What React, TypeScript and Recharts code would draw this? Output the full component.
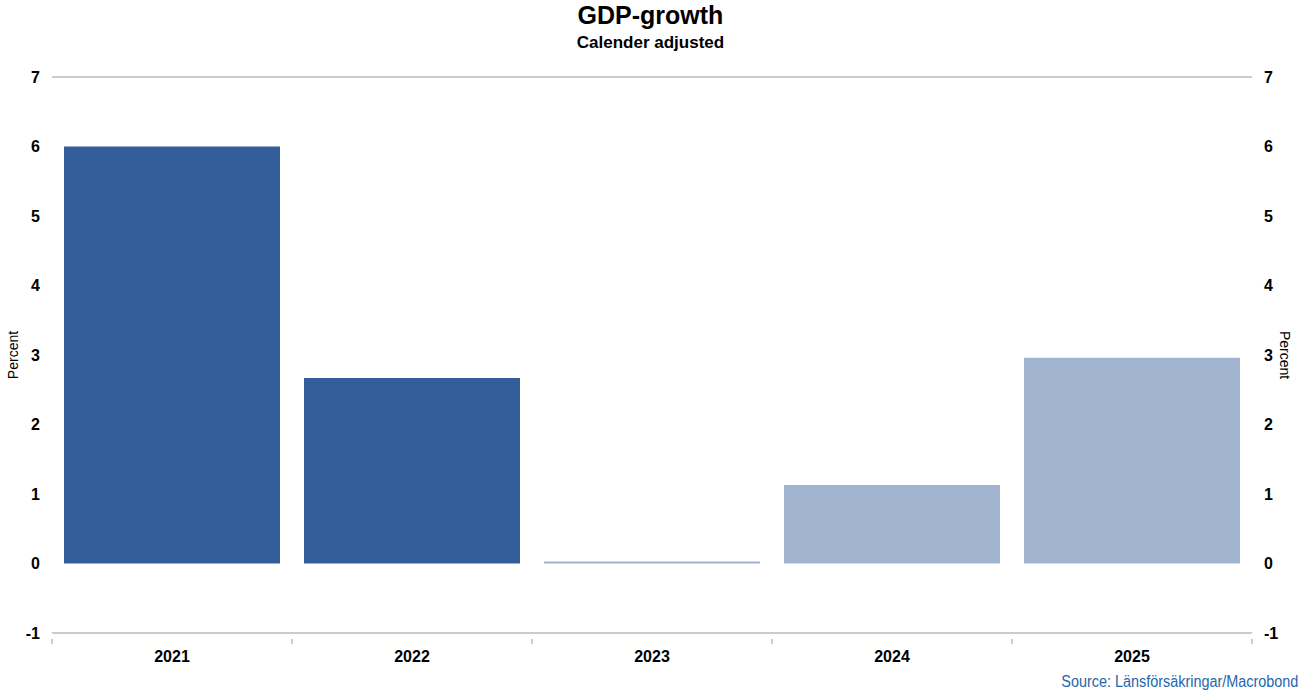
import { BarChart, Bar, XAxis, YAxis, CartesianGrid } from "recharts";

const years = ["2021", "2022", "2023", "2024", "2025"];
// outcome years vs. forecast years
const outcome = [6.0, 2.67, null, null, null];
const forecast = [null, null, 0.03, 1.13, 2.96];
const yTicks = [-1, 0, 1, 2, 3, 4, 5, 6, 7];

const data = years.map((year, i) => ({
  year,
  outcome: outcome[i],
  forecast: forecast[i],
}));

const FONT = "Arial, 'Liberation Sans', sans-serif";

function PercentLabel(props: any) {
  const { viewBox, side } = props;
  const { x, y, width, height } = viewBox;
  const cx = side === "left" ? x + 1 : x + width - 4;
  const cy = y + height / 2;
  return (
    <text
      x={cx}
      y={cy}
      transform={`rotate(${side === "left" ? -90 : 90}, ${cx}, ${cy})`}
      textAnchor="middle"
      dominantBaseline="central"
      fontSize={14}
      fontFamily={FONT}
      fill="#000"
    >
      Percent
    </text>
  );
}

// category label plus small tick marks at the category boundaries
function YearTick(props: any) {
  const { x, y, payload, index, visibleTicksCount } = props;
  const half = payload?.offset ?? 120;
  const top = y - 18 + 6;
  const last = index === (visibleTicksCount ?? years.length) - 1;
  return (
    <g>
      <line x1={x - half} x2={x - half} y1={top} y2={top + 5} stroke="#999" />
      {last && <line x1={x + half} x2={x + half} y1={top} y2={top + 5} stroke="#999" />}
      <text
        x={x}
        y={y}
        dy="0.71em"
        textAnchor="middle"
        fontSize={16}
        fontWeight="bold"
        fontFamily={FONT}
        fill="#000"
      >
        {payload.value}
      </text>
    </g>
  );
}

export default function App() {
  const tickStyle = { fill: "#000", fontSize: 16, fontWeight: "bold", fontFamily: FONT };
  return (
    <div
      style={{
        position: "absolute",
        left: 0,
        top: 0,
        width: 1301,
        height: 693,
        background: "#fff",
        fontFamily: FONT,
      }}
    >
      <div
        style={{
          position: "absolute",
          top: 1,
          width: 1301,
          textAlign: "center",
          fontSize: 25,
          fontWeight: "bold",
        }}
      >
        GDP-growth
      </div>
      <div
        style={{
          position: "absolute",
          top: 33,
          width: 1301,
          textAlign: "center",
          fontSize: 17,
          fontWeight: "bold",
        }}
      >
        Calender adjusted
      </div>
      <BarChart
        width={1301}
        height={693}
        data={data}
        margin={{ top: 77, right: 12, bottom: 0, left: 12 }}
        barCategoryGap="5%"
      >
        <CartesianGrid vertical={false} stroke="#999" strokeWidth={1} />
        <XAxis
          xAxisId="cat"
          dataKey="year"
          axisLine={false}
          tickLine={false}
          tickSize={0}
          tickMargin={18}
          height={60}
          tick={<YearTick />}
        />
        <YAxis
          yAxisId="left"
          domain={[-1, 7]}
          ticks={yTicks}
          allowDataOverflow
          width={40}
          axisLine={false}
          tickLine={false}
          tickSize={0}
          tickMargin={12}
          tick={tickStyle}
          label={<PercentLabel side="left" />}
        />
        <YAxis
          yAxisId="right"
          orientation="right"
          domain={[-1, 7]}
          ticks={yTicks}
          allowDataOverflow
          width={37}
          axisLine={false}
          tickLine={false}
          tickSize={0}
          tickMargin={12}
          tick={tickStyle}
          label={<PercentLabel side="right" />}
        />
        <Bar
          dataKey="outcome"
          xAxisId="cat"
          yAxisId="left"
          stackId="g"
          fill="#345e99"
          isAnimationActive={false}
        />
        <Bar
          dataKey="forecast"
          xAxisId="cat"
          yAxisId="left"
          stackId="g"
          fill="#a0b4cf"
          isAnimationActive={false}
        />
      </BarChart>
      <div
        style={{
          position: "absolute",
          right: 3,
          top: 673,
          fontSize: 16,
          color: "#1f66ad",
          whiteSpace: "nowrap",
          transform: "scaleX(0.9)",
          transformOrigin: "right center",
        }}
      >
        Source: Länsförsäkringar/Macrobond
      </div>
    </div>
  );
}
